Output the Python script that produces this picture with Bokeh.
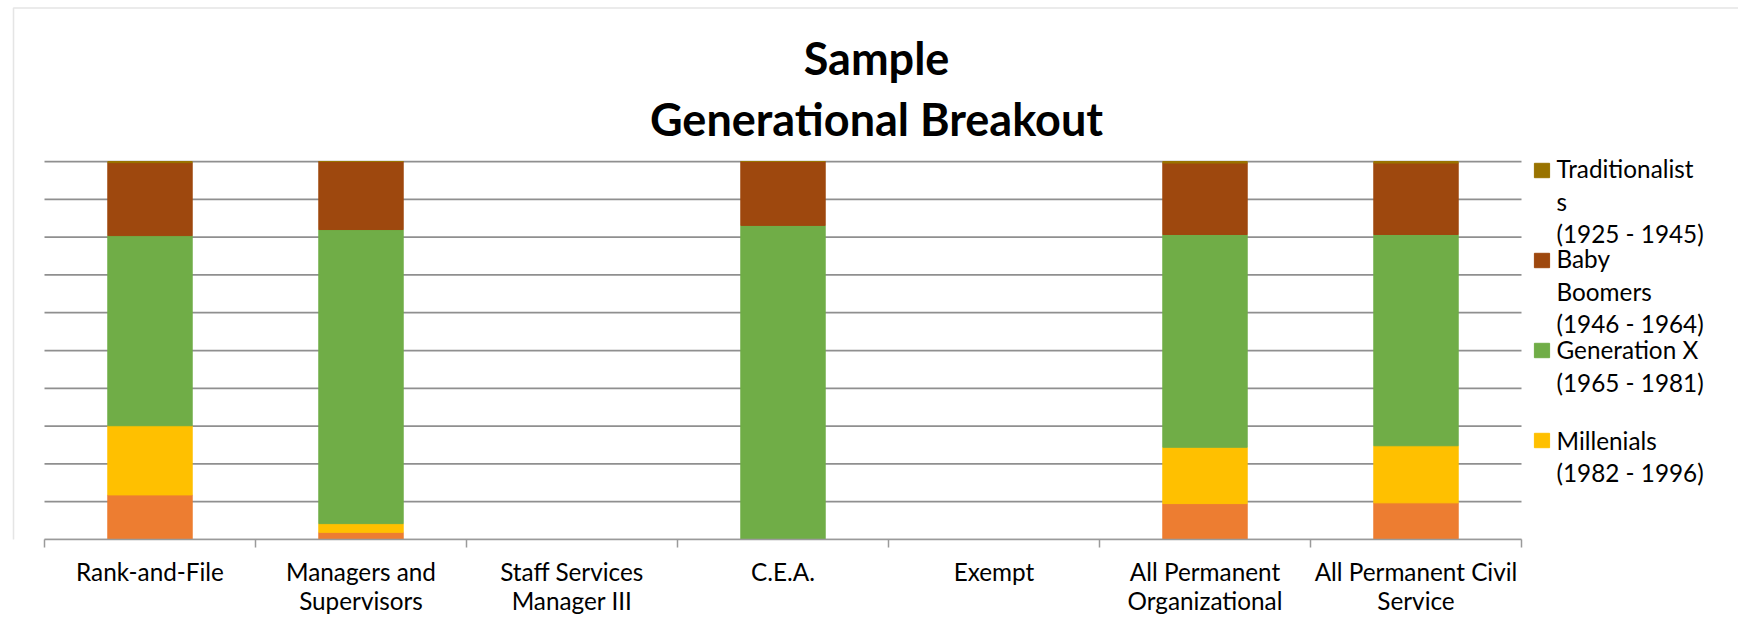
from bokeh.plotting import figure
from bokeh.models import (Range1d, FixedTicker, Label, Legend, LegendItem,
                          ColumnDataSource, BoxAnnotation)
from bokeh.embed import file_html
from bokeh.resources import INLINE

# ---------------- data ----------------
categories = ["Rank-and-File", "Managers and\nSupervisors", "Staff Services\nManager III",
              "C.E.A.", "Exempt", "All Permanent\nOrganizational", "All Permanent Civil\nService"]
# percent of each group (100% stacked), bottom series first
gen_z = [11.8, 1.9, 0, 0, 0, 9.5, 9.7]            # orange series (entry not visible in legend)
millenials = [18.3, 2.3, 0, 0, 0, 14.9, 15.1]
generation_x = [50.3, 77.8, 0, 83.1, 0, 56.3, 55.9]
baby_boomers = [19.3, 18.0, 0, 16.9, 0, 18.9, 18.9]
traditionalists = [0.3, 0, 0, 0, 0, 0.4, 0.4]
y_ticks = [0, 10, 20, 30, 40, 50, 60, 70, 80, 90, 100]

series_names = ["gen_z", "millenials", "generation_x", "baby_boomers", "traditionalists"]
series_colors = ["#ED7D31", "#FFC000", "#70AD47", "#9E480E", "#997300"]
legend_texts = {
    "traditionalists": ["Traditionalist", "s", "(1925 - 1945)"],
    "baby_boomers": ["Baby", "Boomers", "(1946 - 1964)"],
    "generation_x": ["Generation X", "(1965 - 1981)"],
    "millenials": ["Millenials", "(1982 - 1996)"],
}
title_lines = ["Sample", "Generational Breakout"]

# ---------------- layout (pixels) ----------------
W, H = 1738, 625
MB = 86                      # space for the category axis
FRAME_H = H - MB             # frame covers the canvas above the axis
PLOT_L, PLOT_R = 44, 1521    # bar area left/right
PLOT_T = 161                 # top of the 100% line
FONT = "Lato"

n = len(categories)
cat_px = (PLOT_R - PLOT_L) / n
x0 = -0.5 - PLOT_L / cat_px
x1 = -0.5 + (W - PLOT_L) / cat_px
y1 = 100 * FRAME_H / (FRAME_H - PLOT_T)

x_pos = list(range(n))
src = ColumnDataSource(dict(x=x_pos, gen_z=gen_z, millenials=millenials,
                            generation_x=generation_x, baby_boomers=baby_boomers,
                            traditionalists=traditionalists))

p = figure(width=W, height=H, output_backend="svg", toolbar_location=None,
           x_range=Range1d(x0, x1), y_range=Range1d(0, y1),
           min_border_left=0, min_border_right=0, min_border_top=0, min_border_bottom=MB)
p.outline_line_color = None
p.background_fill_color = "white"
p.border_fill_color = "white"
p.yaxis.visible = False
p.xgrid.visible = False
p.ygrid.visible = False

# horizontal gridlines over the bar area only
p.segment(x0=-0.5, x1=n - 0.5, y0=y_ticks, y1=y_ticks, line_color="#8f8f8f", line_width=1.75)

renderers = p.vbar_stack(series_names, x="x", width=0.4, color=series_colors, source=src)
rmap = dict(zip(series_names, renderers))

xa = p.xaxis[0]
xa.bounds = (-0.5, n - 0.5)
xa.ticker = FixedTicker(ticks=x_pos, minor_ticks=[i - 0.5 for i in range(n + 1)])
xa.major_label_overrides = {i: c for i, c in zip(x_pos, categories)}
xa.axis_line_color = "#9a9a9a"
xa.axis_line_width = 1.5
xa.minor_tick_line_color = "#9a9a9a"
xa.minor_tick_line_width = 1.5
xa.minor_tick_out = 8
xa.minor_tick_in = 0
xa.major_tick_line_color = None
xa.major_tick_out = 0
xa.major_tick_in = 0
xa.major_label_standoff = 9
xa.major_label_text_font = FONT
xa.major_label_text_font_size = "24.3px"
xa.major_label_text_color = "#000000"
xa.major_label_text_line_height = 1.02

# title
for txt, base_y in zip(title_lines, [57, 118]):
    p.add_layout(Label(x=876, y=FRAME_H - base_y, x_units="screen", y_units="screen", text=txt,
                       text_align="center", text_baseline="alphabetic", text_font=FONT,
                       text_font_style="bold", text_font_size="45px", text_color="#000000"))

# legend squares
leg_order = ["traditionalists", "baby_boomers", "generation_x", "millenials"]
legend = Legend(items=[LegendItem(label=" ", renderers=[rmap[k]]) for k in leg_order],
                location=(1532, FRAME_H - 160.9 - 288), orientation="vertical",
                glyph_width=19, glyph_height=18, label_width=0, label_height=18,
                label_standoff=0, label_text_font_size="1px", spacing=72,
                padding=0, margin=0, border_line_color=None, background_fill_alpha=0)
p.add_layout(legend)

# legend texts
entry_base = [168.2, 258.2, 349, 439.5]
for k, b in zip(leg_order, entry_base):
    for j, line in enumerate(legend_texts[k]):
        p.add_layout(Label(x=1556, y=FRAME_H - (b + 32.5 * j), x_units="screen", y_units="screen",
                           text=line, text_align="left", text_baseline="alphabetic",
                           text_font=FONT, text_font_size="24.3px", text_color="#000000"))

# chart border (only left and top edges visible)
p.add_layout(BoxAnnotation(left=13, right=5000, top=7.5, bottom=5000,
                           left_units="canvas", right_units="canvas",
                           top_units="canvas", bottom_units="canvas",
                           fill_alpha=0, line_color="#a8a8a8", line_width=1.5))

open("out.html", "w").write(file_html(p, INLINE))
